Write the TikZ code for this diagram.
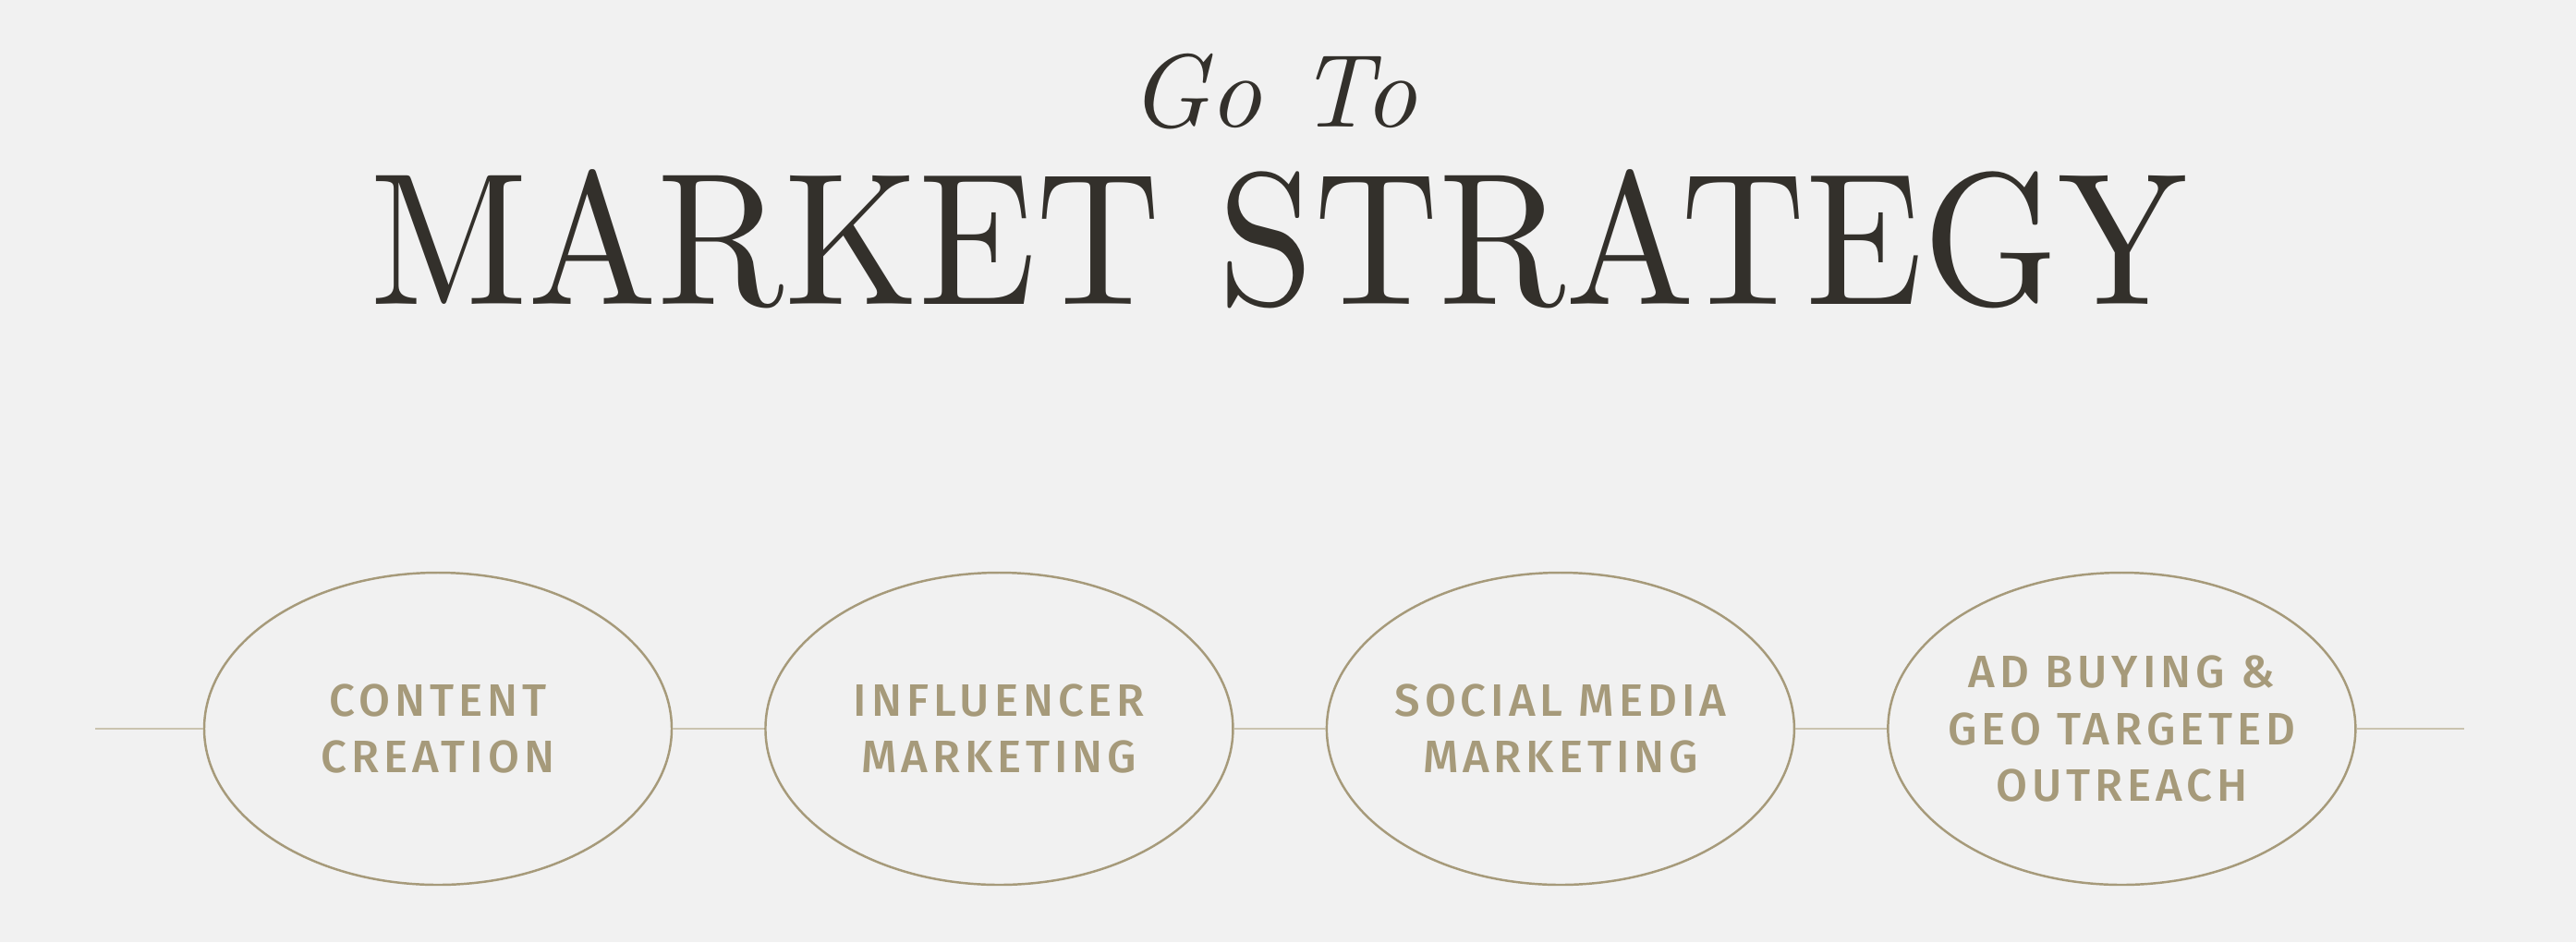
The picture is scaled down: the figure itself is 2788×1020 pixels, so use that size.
\documentclass[tikz,border=0pt]{standalone}
\usepackage{fontspec}
\usepackage{xcolor}
\usepackage{tikz}
\usetikzlibrary{shapes.geometric, positioning}
\newfontfamily\stepfont{Fira Sans}[UprightFont=* Medium, LetterSpace=10]
\newfontfamily\titlefont{lmroman10-regular}[Extension=.otf, ItalicFont=lmroman10-italic]
\definecolor{paper}{RGB}{241,241,241}
\definecolor{darkink}{RGB}{51,48,43}
\definecolor{sand}{RGB}{166,154,122}
\definecolor{lightsand}{RGB}{202,195,175}
\tikzset{
  phase/.style={
      draw=sand,
      line width=0.7pt,
      ellipse,
      minimum width=50.6mm,
      minimum height=33.8mm,
      inner sep=0pt
  },
  phasetext/.style={
      text=sand,
      align=center,
      font=\stepfont\fontsize{14}{17.6}\selectfont
  },
  link/.style={draw=lightsand, line width=0.45pt}
}
\begin{document}
\begin{tikzpicture}[x=0.1mm, y=-0.1mm]
      % Background
      \fill[paper] (0,0) rectangle (2788,1020);

      % Title
      \node (goto) [anchor=base, text=darkink, font=\titlefont\itshape\fontsize{32}{34}\selectfont] at (1378,137) {\scalebox{0.99}[1]{Go To}};
      \node (market) [anchor=base, text=darkink, font=\titlefont\fontsize{58}{60}\selectfont] at (1384,329) {\scalebox{0.916}[1]{MARKET STRATEGY}};

      % Phases
      \node (content) [phase, label={[phasetext]center:{CONTENT\\CREATION}}] at (474,789) {};
      \node (influencer) [phase, right=9.9mm of content, label={[phasetext]center:{INFLUENCER\\MARKETING}}] {};
      \node (social) [phase, right=9.9mm of influencer, label={[phasetext]center:{SOCIAL MEDIA\\MARKETING}}] {};
      \node (adbuying) [phase, right=9.9mm of social, label={[phasetext]center:{AD BUYING \&\\GEO TARGETED\\OUTREACH}}] {};

      % Connections
      \coordinate (start) at (103,789);
      \coordinate (finish) at (2667,789);
      \draw[link] (start) -- (content);
      \draw[link] (content) -- (influencer);
      \draw[link] (influencer) -- (social);
      \draw[link] (social) -- (adbuying);
      \draw[link] (adbuying) -- (finish);
\end{tikzpicture}
\end{document}
